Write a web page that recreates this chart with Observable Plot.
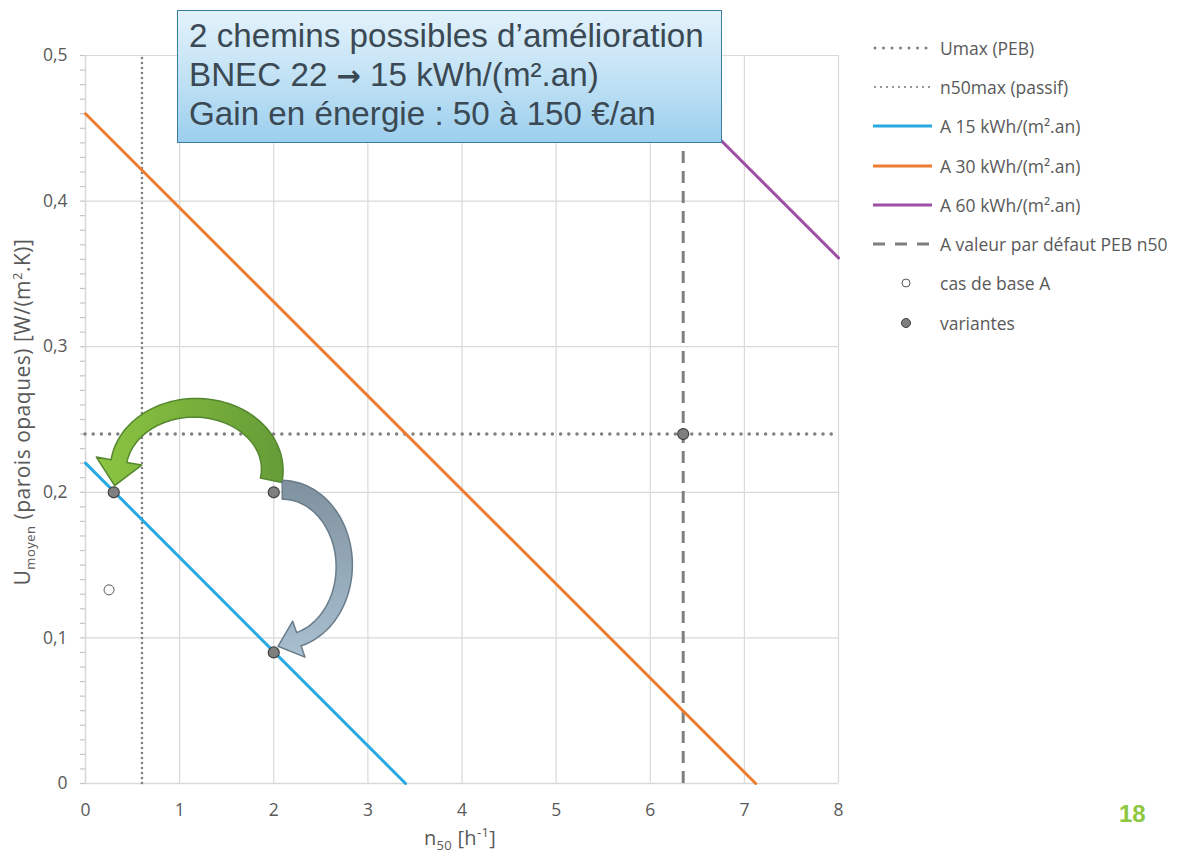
<!DOCTYPE html>
<html>
<head>
<meta charset="utf-8">
<script src="https://cdn.jsdelivr.net/npm/d3@7"></script>
<script src="https://cdn.jsdelivr.net/npm/@observablehq/plot@0.6"></script>
<style>
  html, body { margin: 0; padding: 0; background: #fff; }
  #page { position: relative; width: 1187px; height: 856px; overflow: hidden; font-family: "Open Sans", Lato, sans-serif; color: #595959; }
  #chart { position: absolute; left: 0; top: 0; }
  #titlebox {
    position: absolute; left: 177px; top: 10px; width: 545px; height: 133px; box-sizing: border-box;
    border: 1.5px solid #3a7d9e;
    background: linear-gradient(180deg, #e3f2fb 0%, #c2e2f5 50%, #9ccfee 100%);
    font-family: "Liberation Sans", Arial, sans-serif; font-size: 33.2px; line-height: 38.5px;
    color: #3b4954; padding: 6px 0 0 11px; white-space: nowrap;
  }
  .arr { font-family: "DejaVu Sans", sans-serif; font-weight: bold; font-size: 29px; }
  #legend { position: absolute; left: 872px; top: 28px; font-size: 17.5px; color: #595959; }
  .row { display: flex; align-items: center; height: 39.3px; }
  .row svg { width: 62px; height: 16px; margin-right: 6px; flex: none; }
  #ylabel {
    position: absolute; left: -208px; top: 400px; width: 460px; text-align: center;
    transform: rotate(-90deg); font-size: 21px; letter-spacing: 0.5px; line-height: 24px; white-space: nowrap;
  }
  #xlabel { position: absolute; left: 360px; top: 826px; width: 200px; text-align: center; font-size: 20px; letter-spacing: 0.3px; line-height: 24px; }
  sub, sup { font-size: 13px; line-height: 0; }
  #pagenum { position: absolute; left: 1119px; top: 800px; font-family: "Liberation Sans", Arial, sans-serif; font-weight: bold; font-size: 24px; color: #8dc63f; }
</style>
</head>
<body>
<div id="page">
  <div id="chart"></div>
  <div id="titlebox"></div>
  <div id="legend"></div>
  <div id="ylabel">U<sub>moyen</sub> (parois opaques) [W/(m<sup>2</sup>.K)]</div>
  <div id="xlabel">n<sub>50</sub> [h<sup>-1</sup>]</div>
  <div id="pagenum">18</div>
</div>
<script>
// Axis ticks
const n50Ticks = [0, 1, 2, 3, 4, 5, 6, 7, 8];
const uTicks = [0, 0.1, 0.2, 0.3, 0.4, 0.5];
const uMinorTicks = d3.range(0, 51).map(i => i / 100);

// Reference limits
const uMaxPEB = 0.24;        // Umax (PEB)
const n50MaxPassif = 0.6;    // n50max (passif)
const n50DefautPEB = 6.35;   // valeur par défaut PEB n50

// Iso-demand lines (n50, Umoyen)
const curveA15 = [{n50: 0, u: 0.22}, {n50: 3.4, u: 0}];
const curveA30 = [{n50: 0, u: 0.46}, {n50: 7.12, u: 0}];
const curveA60 = [{n50: 5.85, u: 0.5}, {n50: 8, u: 0.361}];

// Cases
const casDeBase = [{n50: 0.25, u: 0.133}];
const variantes = [
  {n50: 0.3, u: 0.2},
  {n50: 2, u: 0.2},
  {n50: 2, u: 0.09},
  {n50: 6.35, u: 0.24}
];

// Improvement paths between variants
const chemins = [
  {from: variantes[1], to: variantes[0], kind: "over"},
  {from: variantes[1], to: variantes[2], kind: "side"}
];

const titleLines = [
  ["2 chemins possibles d’amélioration"],
  ["BNEC 22 ", "→", " 15 kWh/(m².an)"],
  ["Gain en énergie : 50 à 150 €/an"]
];

const legendItems = [
  {label: "Umax (PEB)", type: "dot1"},
  {label: "n50max (passif)", type: "dot2"},
  {label: "A 15 kWh/(m².an)", type: "line", color: "#29a9e1"},
  {label: "A 30 kWh/(m².an)", type: "line", color: "#ed7d31"},
  {label: "A 60 kWh/(m².an)", type: "line", color: "#9e4fa5"},
  {label: "A valeur par défaut PEB n50", type: "dash"},
  {label: "cas de base A", type: "open"},
  {label: "variantes", type: "filled"}
];

const fmt = d => String(d).replace(".", ",");

// Block arrow following an elliptical arc
function arcArrow(cx, cy, rx, ry, t0, t1, w0, w1, headW, headL) {
  const n = 64, sgn = t1 > t0 ? 1 : -1;
  const pt = t => [cx + rx * Math.cos(t), cy - ry * Math.sin(t)];
  const tan = t => {
    const dx = -rx * Math.sin(t) * sgn, dy = -ry * Math.cos(t) * sgn;
    const L = Math.hypot(dx, dy);
    return [dx / L, dy / L];
  };
  const left = [], right = [];
  for (let i = 0; i <= n; ++i) {
    const t = t0 + (t1 - t0) * i / n, w = (w0 + (w1 - w0) * i / n) / 2;
    const [x, y] = pt(t), [tx, ty] = tan(t), nx = -ty, ny = tx;
    left.push([x + nx * w, y + ny * w]);
    right.push([x - nx * w, y - ny * w]);
  }
  const [bx, by] = pt(t1), [tx, ty] = tan(t1), nx = -ty, ny = tx;
  const head = [
    [bx + nx * headW / 2, by + ny * headW / 2],
    [bx + tx * headL, by + ty * headL],
    [bx - nx * headW / 2, by - ny * headW / 2]
  ];
  const pts = left.concat(head, right.reverse());
  return "M" + pts.map(p => p[0].toFixed(2) + "," + p[1].toFixed(2)).join("L") + "Z";
}

function cheminsMark(index, scales) {
  const {x, y} = scales;
  const g = d3.create("svg:g");
  const defs = g.append("defs");
  const gGreen = defs.append("linearGradient").attr("id", "grad-green").attr("x1", 0).attr("x2", 1).attr("y1", 0).attr("y2", 0);
  gGreen.append("stop").attr("offset", "0%").attr("stop-color", "#8cc541");
  gGreen.append("stop").attr("offset", "50%").attr("stop-color", "#79b03c");
  gGreen.append("stop").attr("offset", "100%").attr("stop-color", "#659c37");
  const gGrey = defs.append("linearGradient").attr("id", "grad-grey").attr("x1", 0).attr("x2", 0).attr("y1", 0).attr("y2", 1);
  gGrey.append("stop").attr("offset", "0%").attr("stop-color", "#7f919e");
  gGrey.append("stop").attr("offset", "100%").attr("stop-color", "#a9c0d1");
  for (const c of chemins) {
    const x1 = x(c.from.n50), y1 = y(c.from.u), x2 = x(c.to.n50), y2 = y(c.to.u);
    if (c.kind === "over") {
      const cx = (x1 + x2) / 2 + 2, rx = Math.abs(x1 - x2) / 2 - 3;
      g.append("path")
        .attr("d", arcArrow(cx, y1 - 22, rx, 62, -0.17, 3.0, 22, 16, 46, 25))
        .attr("fill", "url(#grad-green)").attr("stroke", "#55872f").attr("stroke-width", 1.5)
        .attr("stroke-linejoin", "round");
    } else {
      const cy = (y1 + y2) / 2 - 6, ry = Math.abs(y2 - y1) / 2 - 4;
      g.append("path")
        .attr("d", arcArrow(x1 + 9, cy, 62, ry, Math.PI / 2, -1.3, 19, 14, 38, 22))
        .attr("fill", "url(#grad-grey)").attr("stroke", "#6a7c89").attr("stroke-width", 1.5)
        .attr("stroke-linejoin", "round");
    }
  }
  return g.node();
}

const grid = "#d9d9d9";

const chart = Plot.plot({
  width: 850,
  height: 856,
  marginLeft: 85,
  marginRight: 12,
  marginTop: 55,
  marginBottom: 73,
  style: {fontFamily: "'Open Sans', Lato, sans-serif", fontSize: "17.5px", color: "#595959", background: "transparent"},
  x: {domain: [0, 8]},
  y: {domain: [0, 0.5]},
  marks: [
    Plot.gridX(n50Ticks, {stroke: grid, strokeOpacity: 1, strokeWidth: 1.2}),
    Plot.gridY(uTicks, {stroke: grid, strokeOpacity: 1, strokeWidth: 1.2}),
    // minor ticks on the left of the value axis
    Plot.ruleY(uMinorTicks, {x1: 0, x2: 0, insetLeft: -5, stroke: "#c4c4c4", strokeWidth: 1.2}),
    Plot.axisY(uTicks, {tickSize: 0, tickPadding: 18, tickFormat: fmt, label: null, fill: "#595959"}),
    Plot.axisX(n50Ticks, {tickSize: 0, tickPadding: 20, tickFormat: fmt, label: null, fill: "#595959"}),
    Plot.ruleX([0], {stroke: grid, strokeWidth: 1.5}),
    Plot.ruleY([0], {stroke: grid, strokeWidth: 1.5}),
    Plot.ruleY([uMaxPEB], {stroke: "#7f7f7f", strokeWidth: 3.5, strokeDasharray: "0 8.2", strokeLinecap: "round"}),
    Plot.ruleX([n50MaxPassif], {y1: 0, y2: 0.5, stroke: "#7f7f7f", strokeWidth: 2.6, strokeDasharray: "0 5", strokeLinecap: "round"}),
    Plot.ruleX([n50DefautPEB], {y1: 0, y2: 0.5, stroke: "#7f7f7f", strokeWidth: 3, strokeDasharray: "12 8"}),
    Plot.line(curveA15, {x: "n50", y: "u", stroke: "#29a9e1", strokeWidth: 3}),
    Plot.line(curveA30, {x: "n50", y: "u", stroke: "#ed7d31", strokeWidth: 3}),
    Plot.line(curveA60, {x: "n50", y: "u", stroke: "#9e4fa5", strokeWidth: 3}),
    Plot.dot(casDeBase, {x: "n50", y: "u", r: 5, fill: "white", stroke: "#5a5a5a", strokeWidth: 1}),
    Plot.dot(variantes, {x: "n50", y: "u", r: 5.5, fill: "#7f7f7f", stroke: "#3f3f3f", strokeWidth: 1.2}),
    cheminsMark
  ]
});
document.getElementById("chart").appendChild(chart);

// Title box
const tb = d3.select("#titlebox");
for (const parts of titleLines) {
  const d = tb.append("div");
  parts.forEach(p => d.append("span").attr("class", p === "→" ? "arr" : null).text(p));
}

// Legend
const lg = d3.select("#legend");
for (const it of legendItems) {
  const row = lg.append("div").attr("class", "row");
  const s = row.append("svg").attr("viewBox", "0 0 62 16");
  const line = () => s.append("line").attr("x1", 3).attr("x2", 60).attr("y1", 8).attr("y2", 8);
  if (it.type === "dot1") line().attr("stroke", "#7f7f7f").attr("stroke-width", 3).attr("stroke-dasharray", "0 8.5").attr("stroke-linecap", "round");
  else if (it.type === "dot2") line().attr("stroke", "#7f7f7f").attr("stroke-width", 2.2).attr("stroke-dasharray", "0 6").attr("stroke-linecap", "round");
  else if (it.type === "line") line().attr("stroke", it.color).attr("stroke-width", 3).attr("x1", 1);
  else if (it.type === "dash") line().attr("stroke", "#7f7f7f").attr("stroke-width", 3).attr("stroke-dasharray", "12 10").attr("x1", 1);
  else if (it.type === "open") s.append("circle").attr("cx", 34).attr("cy", 8).attr("r", 4).attr("fill", "white").attr("stroke", "#5a5a5a");
  else if (it.type === "filled") s.append("circle").attr("cx", 34).attr("cy", 8).attr("r", 4.5).attr("fill", "#7f7f7f").attr("stroke", "#3f3f3f");
  row.append("span").text(it.label);
}
</script>
</body>
</html>
